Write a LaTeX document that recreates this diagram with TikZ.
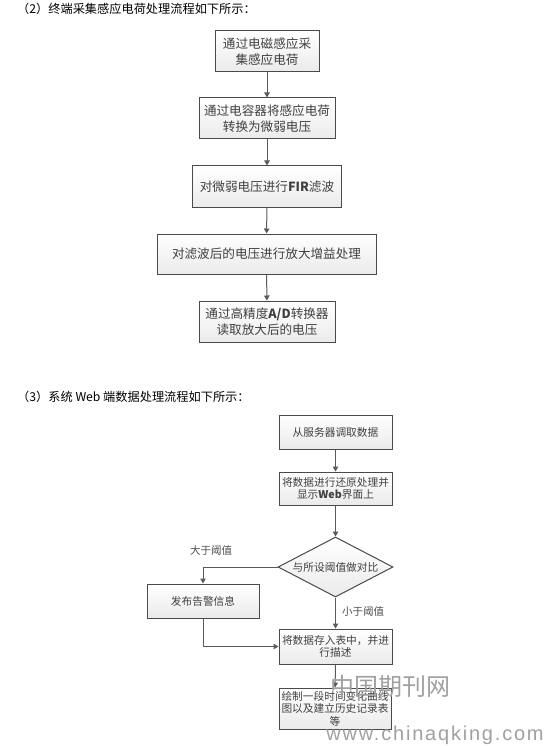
\documentclass[tikz,border=0pt]{standalone}
\usepackage{fontspec}
\setmainfont{Liberation Sans}
\newfontfamily\cjk{Noto Sans CJK SC}
\newfontfamily\markfont[LetterSpace=9]{Liberation Sans}
\usetikzlibrary{arrows.meta,shapes.geometric}

\definecolor{boxline}{RGB}{70,75,75}
\definecolor{flowline}{RGB}{90,90,90}
\definecolor{mark}{RGB}{160,160,160}

\tikzset{
    flowbox/.style={draw=boxline, line width=1pt, top color=white, bottom color=black!8,
        inner sep=0pt, align=center, text=black!75, font=\cjk\fontsize{10.7}{12.5}\selectfont},
    bigbox/.style={flowbox, font=\cjk\fontsize{12.6}{15.5}\selectfont},
    flowdiamond/.style={flowbox, diamond, aspect=1.9},
    flowarrow/.style={draw=flowline, line width=1pt, -{Triangle[length=5pt,width=5.5pt]}},
    heading/.style={anchor=west, inner sep=0pt, font=\cjk\fontsize{12.2}{14}\selectfont},
    remark/.style={inner sep=0pt, text=black!70, font=\cjk\fontsize{10.5}{14}\selectfont},
}

\begin{document}
\begin{tikzpicture}[x=1pt,y=-1pt]
    \useasboundingbox (0,0) rectangle (555,746);

    % headings
    \node[heading] (headA) at (17,9) {（2）终端采集感应电荷处理流程如下所示：};
    \node[heading] (headB) at (17,397) {（3）系统 Web 端数据处理流程如下所示：};

    % first flow
    \node[bigbox, minimum width=104pt, minimum height=41pt] (sense) at (267,51.5) {通过电磁感应采\\集感应电荷};
    \node[bigbox, minimum width=136pt, minimum height=41pt] (convert) at (267,118.5) {通过电容器将感应电荷\\转换为微弱电压};
    \node[bigbox, minimum width=149pt, minimum height=41pt] (filter) at (267,186.5) {对微弱电压进行\textbf{FIR}滤波};
    \node[bigbox, minimum width=219pt, minimum height=40pt] (amplify) at (266.5,254) {对滤波后的电压进行放大增益处理};
    \node[bigbox, minimum width=136pt, minimum height=41pt] (readout) at (267,321.5) {通过高精度\textbf{A/D}转换器\\读取放大后的电压};

    \draw[flowarrow] (sense) -- (convert);
    \draw[flowarrow] (convert) -- (filter);
    \draw[flowarrow] (filter) -- (amplify);
    \draw[flowarrow] (amplify) -- (readout);

    % second flow
    \node[flowbox, minimum width=113pt, minimum height=34pt] (fetch) at (335.5,432) {从服务器调取数据};
    \node[flowbox, minimum width=113pt, minimum height=33pt] (restore) at (335.5,488.5) {将数据进行还原处理并\\显示\textbf{Web}界面上};
    \node[flowdiamond, minimum width=115pt, minimum height=60pt] (compare) at (335.5,567) {与所设阈值做对比};
    \node[flowbox, minimum width=112pt, minimum height=34pt] (alarm) at (203,601) {发布告警信息};
    \node[flowbox, minimum width=113pt, minimum height=35pt] (store) at (335.5,646.5) {将数据存入表中，并进\\行描述};
    \node[flowbox, minimum width=112pt, minimum height=41pt] (history) at (335,708.5) {绘制一段时间变化曲线\\图以及建立历史记录表\\等};

    \draw[flowarrow] (fetch) -- (restore);
    \draw[flowarrow] (restore) -- (compare);
    \draw[flowarrow] (compare.west) -| (alarm.north);
    \draw[flowarrow] (compare) -- (store);
    \draw[flowarrow] (alarm.south) |- (store.west);
    \draw[flowarrow] (store) -- (history);

    \node[remark] (over) at (211,550) {大于阈值};
    \node[remark] (under) at (363,612) {小于阈值};

    % site mark
    \node[inner sep=0pt, text=mark, font=\cjk\fontsize{24}{26}\selectfont] (markA) at (390,686) {中国期刊网};
    \node[inner sep=0pt, text=mark, font=\markfont\fontsize{20}{22}\selectfont] (markB) at (435,735) {www.chinaqking.com};
\end{tikzpicture}
\end{document}
